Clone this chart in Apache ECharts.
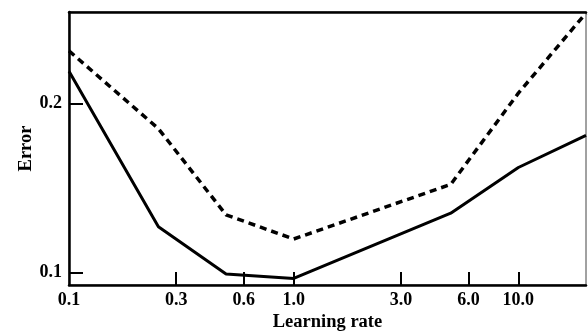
<!DOCTYPE html>
<html>
<head>
<meta charset="utf-8">
<script src="https://cdn.jsdelivr.net/npm/echarts@6/dist/echarts.min.js"></script>
<style>
  html, body { margin: 0; padding: 0; background: #fff; }
  #main { width: 588px; height: 331px; }
</style>
</head>
<body>
<div id="main"></div>
<script>
// learning rates where the curves were sampled
const rates = [0.1, 0.25, 0.5, 1.0, 5.0, 10.0, 20.0]
// error values
const errSolid = [0.219, 0.127, 0.099, 0.0964, 0.135, 0.162, 0.181]
const errDashed = [0.231, 0.185, 0.134, 0.1197, 0.152, 0.206, 0.2534]
// axis ticks
const xTickValues = [0.1, 0.3, 0.6, 1, 3, 6, 10]
const xTickLabels = ['0.1', '0.3', '0.6', '1.0', '3.0', '6.0', '10.0']
const yTickValues = [0.1, 0.2]
const yTickLabels = ['0.1', '0.2']

const pairs = (xs, ys) => xs.map((x, i) => [x, ys[i]])

const chartInstance = echarts.init(document.getElementById('main'))

const fontFamily = '"Liberation Serif", "DejaVu Serif", serif'

const option = {
  animation: false,
  grid: {
    left: 69,
    right: 2,
    top: 12,
    bottom: 46,
    outerBoundsMode: 'none',
    containLabel: false,
    show: true,
    borderColor: '#444',
    borderWidth: 1
  },
  xAxis: [
    {
      type: 'log',
      logBase: 10,
      min: 0.1,
      max: 20,
      name: 'Learning rate',
      nameLocation: 'middle',
      nameGap: 28,
      nameMoveOverlap: false,
      nameTextStyle: {
        color: '#000',
        fontFamily: fontFamily,
        fontWeight: 'bold',
        fontSize: 18.5
      },
      axisLine: { lineStyle: { color: '#000', width: 2.5 } },
      axisTick: {
        inside: true,
        length: 13,
        customValues: xTickValues.slice(1),
        lineStyle: { color: '#000', width: 2 }
      },
      axisLabel: {
        customValues: xTickValues,
        margin: 6,
        color: '#000',
        fontFamily: fontFamily,
        fontWeight: 'bold',
        fontSize: 18,
        formatter: v => {
          const i = xTickValues.findIndex(t => Math.abs(t - v) < 1e-6)
          return i >= 0 ? xTickLabels[i] : ''
        }
      },
      splitLine: { show: false },
      minorTick: { show: false }
    },
    {
      // top frame line
      type: 'log',
      position: 'top',
      min: 0.1,
      max: 20,
      axisLine: { lineStyle: { color: '#000', width: 2.5 } },
      axisTick: { show: false },
      axisLabel: { show: false },
      splitLine: { show: false }
    }
  ],
  yAxis: {
    type: 'value',
    min: 0.0925,
    max: 0.254,
    name: 'Error',
    nameLocation: 'middle',
    nameGap: 33,
    nameMoveOverlap: false,
    nameTextStyle: {
      color: '#000',
      fontFamily: fontFamily,
      fontWeight: 'bold',
      fontSize: 18.5
    },
    axisLine: { show: true, lineStyle: { color: '#000', width: 2.5 } },
    axisTick: {
      inside: true,
      length: 14,
      customValues: yTickValues,
      lineStyle: { color: '#000', width: 2 }
    },
    axisLabel: {
      customValues: yTickValues,
      margin: 7,
      color: '#000',
      fontFamily: fontFamily,
      fontWeight: 'bold',
      fontSize: 18,
      formatter: v => {
        const i = yTickValues.findIndex(t => Math.abs(t - v) < 1e-6)
        return i >= 0 ? yTickLabels[i] : ''
      }
    },
    splitLine: { show: false }
  },
  series: [
    {
      name: 'solid',
      type: 'line',
      data: pairs(rates, errSolid),
      symbol: 'none',
      lineStyle: { color: '#000', width: 3 }
    },
    {
      name: 'dashed',
      type: 'line',
      data: pairs(rates, errDashed),
      symbol: 'none',
      lineStyle: { color: '#000', width: 3.5, type: [7, 5] }
    }
  ]
}

chartInstance.setOption(option)
</script>
</body>
</html>
